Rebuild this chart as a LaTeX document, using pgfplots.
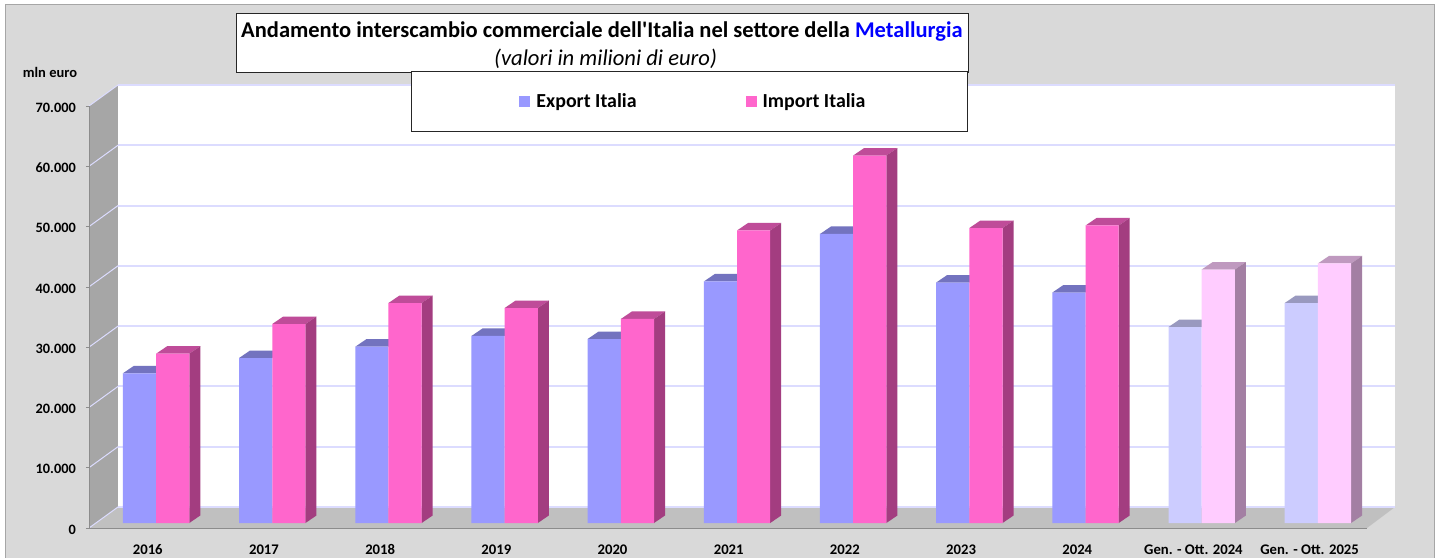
\documentclass[border=0pt]{standalone}
\usepackage{fontspec}
\setmainfont[Ligatures=TeXOff]{Carlito}
\usepackage{pgfplots}
\usepackage{pgfplotstable}
\pgfplotsset{compat=1.18}
\definecolor{panel}{HTML}{D9D9D9}
\definecolor{panelline}{HTML}{A6A6A6}
\definecolor{wallL}{HTML}{A6A6A6}
\definecolor{floorC}{HTML}{C0C0C0}
\definecolor{gridC}{HTML}{DCDCFF}
\definecolor{expC}{HTML}{9999FF}
\definecolor{impC}{HTML}{FF66CC}
\definecolor{expL}{HTML}{CCCCFF}
\definecolor{impL}{HTML}{FFCCFF}
\definecolor{expT}{HTML}{7373BF}
\definecolor{impT}{HTML}{BF4C99}
\definecolor{impS}{HTML}{A33D80}
\definecolor{expLT}{HTML}{9999BF}
\definecolor{impLT}{HTML}{BF99BF}
\definecolor{impLS}{HTML}{A37FA3}
\pgfplotstableread{
c exp imp
0 24830 28080
1 27370 33010
2 29240 36490
3 31020 35660
4 30520 33840
5 40060 48520
6 47940 60960
7 39890 48930
8 38230 49350
}\years
\pgfplotstableread{
c exp imp
9 32510 42050
10 36490 43050
}\partdata
\newcommand{\bw}{0.2857}
\newcommand{\dxc}{0.0947}
\newcommand{\dyv}{1244}
% top face of a bar: left edge #1, value #2, colour #3
\newcommand{\topface}[3]{\edef\doit{\noexpand\addplot[forget plot,fill=#3,draw=none] coordinates {(#1,#2) (\fpeval{#1+\dxc},\fpeval{#2+\dyv}) (\fpeval{#1+\bw+\dxc},\fpeval{#2+\dyv}) (\fpeval{#1+\bw},#2)} -- cycle;}\doit}
% side face of a bar: right edge #1, value #2, colour #3
\newcommand{\sideface}[3]{\edef\doit{\noexpand\addplot[forget plot,fill=#3,draw=none] coordinates {(#1,0) (\fpeval{#1+\dxc},\dyv) (\fpeval{#1+\dxc},\fpeval{#2+\dyv}) (#1,#2)} -- cycle;}\doit}
\newcommand{\depth}[6]{% table, row, cat, exp top, imp top, imp side
  \pgfplotstablegetelem{#2}{exp}\of#1\edef\ve{\pgfplotsretval}%
  \pgfplotstablegetelem{#2}{imp}\of#1\edef\vi{\pgfplotsretval}%
  \topface{\fpeval{#3-\bw}}{\ve}{#4}%
  \topface{#3}{\vi}{#5}%
  \sideface{\fpeval{#3+\bw}}{\vi}{#6}%
}
\begin{document}
\begin{tikzpicture}[x=1pt,y=1pt]
\useasboundingbox (0,0) rectangle (1442,557);
\fill[white] (0,0) rectangle (1442,557);
\fill[panel] (5,-2) rectangle (1434,552.5);
\draw[panelline,line width=1pt] (5,-2) rectangle (1434,552.5);
% left wall and floor
\fill[wallL] (89,451) -- (118,472) -- (118,50) -- (89,29) -- cycle;
\fill[floorC] (89,29) -- (118,50) -- (1395,50) -- (1367,29) -- cycle;
% back wall
\begin{axis}[at={(118pt,50pt)},anchor=south west,scale only axis,width=1277pt,height=422pt,
  xmin=0,xmax=1,ymin=0,ymax=70000,ytick={0,10000,...,70000},xtick=\empty,
  scaled y ticks=false,
  yticklabels={},ymajorgrids,axis background/.style={fill=white},
  grid style={gridC,line width=2pt},axis line style={draw=none},major tick length=0pt,clip=false]
\end{axis}
\foreach \v in {0,...,7}{
  \draw[gridC,line width=1pt] (89,29+60.29*\v) -- (118,50+60.29*\v);
}
% title box
\draw[fill=white,draw=black!85,line width=1pt] (236,484) rectangle (968,543);
\node[anchor=west,inner sep=0pt,font=\fontsize{22.5}{26}\selectfont\bfseries] at (241,525) {Andamento interscambio commerciale dell'Italia nel settore della \textcolor{blue}{Metallurgia}};
\node[anchor=west,inner sep=0pt,font=\fontsize{22.6}{26}\selectfont\itshape] at (494,498.5) {(valori in milioni di euro)};
% front-plane axis, carrying the scales
\begin{axis}[at={(89pt,29pt)},anchor=south west,scale only axis,width=1278pt,height=422pt,
  xmin=-0.5,xmax=10.5,ymin=0,ymax=70000,
  xtick={0,...,10},xticklabels={2016,2017,2018,2019,2020,2021,2022,2023,2024,{Gen. - Ott. 2024},{Gen. - Ott. 2025}},
  ytick={0,10000,...,70000},
  axis x line*=bottom,axis y line*=left,axis line style={-,draw=black!45,line width=0.8pt},
  xtick style={draw=none},ytick style={draw=black!45,line width=0.7pt},
  major tick length=3pt,tick align=outside,
  scaled y ticks=false,
  /pgf/number format/1000 sep={.},
  /pgf/number format/assume math mode=true,
  tick label style={font=\fontsize{14.3}{16}\selectfont\bfseries,inner sep=0pt},
  yticklabel style={xshift=-10pt,yshift=-1.5pt},
  xticklabel style={yshift=-13pt,text height=10pt,text depth=0pt,font=\fontsize{14.7}{16}\selectfont\bfseries,xshift=0.7pt},
  ylabel={mln euro},
  every axis y label/.style={at={(rel axis cs:-0.0305,1.0806)},anchor=center,font=\fontsize{14.5}{16}\selectfont\bfseries},
  clip=false]
\end{axis}
% bars
\begin{axis}[at={(98pt,34pt)},anchor=south west,scale only axis,width=1278pt,height=422pt,
  xmin=-0.5,xmax=10.5,ymin=0,ymax=70000,hide axis,clip=false,
  legend columns=2,
  legend style={at={(rel axis cs:0.2449,1.0711)},anchor=north west,draw=black!85,line width=1pt,fill=white,
    inner xsep=100pt,inner ysep=20.5pt,font=\fontsize{19.9}{22}\selectfont\bfseries,
    /tikz/every even column/.append style={column sep=99pt}},
  legend image code/.code={\path (0pt,0pt) (23pt,0pt);\fill[#1,draw=none] (8pt,-5.5pt) rectangle (19pt,5.5pt);}]
\pgfplotsinvokeforeach{0,...,8}{\depth{\years}{#1}{#1}{expT}{impT}{impS}}
\pgfplotsinvokeforeach{0,1}{\pgfmathtruncatemacro\cc{#1+9}\depth{\partdata}{#1}{\cc}{expLT}{impLT}{impLS}}
\addplot[ybar,bar width=0.2857,bar shift=-0.14285,fill=expC,draw=none] table[x=c,y=exp]{\years};
\addlegendentry{Export Italia}
\addplot[ybar,bar width=0.2857,bar shift=0.14285,fill=impC,draw=none] table[x=c,y=imp]{\years};
\addlegendentry{Import Italia}
\addplot[forget plot,ybar,bar width=0.2857,bar shift=-0.14285,fill=expL,draw=none] table[x=c,y=exp]{\partdata};
\addplot[forget plot,ybar,bar width=0.2857,bar shift=0.14285,fill=impL,draw=none] table[x=c,y=imp]{\partdata};
\end{axis}
\end{tikzpicture}
\end{document}
